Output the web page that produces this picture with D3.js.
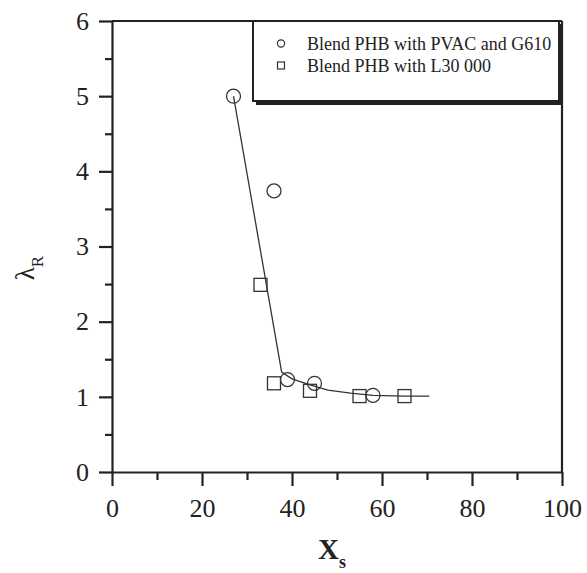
<!DOCTYPE html>
<html>
<head>
<meta charset="utf-8">
<script src="https://cdn.jsdelivr.net/npm/d3@7"></script>
<style>
  body { margin: 0; background: #fff; }
  svg { display: block; }
  text { font-family: "Liberation Serif", "Times New Roman", serif; fill: #222; }
</style>
</head>
<body>
<svg id="chart" width="587" height="573"></svg>
<script>
(function () {
    'use strict';

    const WIDTH = 587;
    const HEIGHT = 573;

    // blend PHB with PVAC and G610 (circles)
    const circleX = [27, 36, 39, 45, 58];
    const circleY = [5.0, 3.74, 1.23, 1.18, 1.02];

    // blend PHB with L30 000 (squares)
    const squareX = [33, 36, 44, 55, 65];
    const squareY = [2.49, 1.18, 1.08, 1.01, 1.01];

    // drawn trend line
    const fitX = [27, 37.7, 40, 44, 48, 53, 58, 65, 70.5];
    const fitY = [5.0, 1.33, 1.24, 1.16, 1.09, 1.05, 1.02, 1.01, 1.01];

    const xTicks = [0, 20, 40, 60, 80, 100];
    const yTicks = [0, 1, 2, 3, 4, 5, 6];
    const legendLabels = ["Blend PHB with PVAC and G610", "Blend PHB with L30 000"];

    const left = 112, right = 562, top = 21, bottom = 472;
    const ink = "#222";

    let svg = d3.select("#chart");

    let x = d3.scaleLinear().domain([0, 100]).range([left, right]);
    let y = d3.scaleLinear().domain([0, 6]).range([bottom, top]);

    // frame top / right
    svg.append("line")
        .attr("x1", left).attr("x2", right).attr("y1", top).attr("y2", top)
        .attr("stroke", ink).attr("stroke-width", 2.2);
    svg.append("line")
        .attr("x1", right).attr("x2", right).attr("y1", top).attr("y2", bottom)
        .attr("stroke", ink).attr("stroke-width", 2.2);

    // minor ticks
    svg.append("g")
        .attr("transform", `translate(${left},0)`)
        .call(d3.axisLeft(y).tickValues(d3.range(0.5, 6, 1)).tickSize(7).tickFormat(""))
        .call(g => g.select(".domain").remove());
    svg.append("g")
        .attr("transform", `translate(0,${bottom})`)
        .call(d3.axisBottom(x).tickValues(d3.range(10, 100, 20)).tickSize(8).tickFormat(""))
        .call(g => g.select(".domain").remove());

    // major axes
    let yAxis = svg.append("g")
        .attr("transform", `translate(${left},0)`)
        .call(d3.axisLeft(y).tickValues(yTicks).tickFormat(d3.format("d"))
            .tickSize(13).tickSizeOuter(0).tickPadding(10));
    let xAxis = svg.append("g")
        .attr("transform", `translate(0,${bottom})`)
        .call(d3.axisBottom(x).tickValues(xTicks).tickFormat(d3.format("d"))
            .tickSize(14).tickSizeOuter(0).tickPadding(13));

    svg.selectAll(".tick line").attr("stroke", ink).attr("stroke-width", 2.2);
    svg.selectAll(".domain").attr("stroke", ink).attr("stroke-width", 2.2);
    [xAxis, yAxis].forEach(a => a.selectAll("text")
        .attr("font-family", "Liberation Serif, serif")
        .attr("font-size", 26)
        .attr("fill", "#333"));

    // trend line
    let line = d3.line().x(d => x(d[0])).y(d => y(d[1]));
    svg.append("path")
        .datum(d3.zip(fitX, fitY))
        .attr("d", line)
        .attr("fill", "none")
        .attr("stroke", "#333")
        .attr("stroke-width", 1.3);

    // markers
    svg.append("g").selectAll("circle")
        .data(d3.zip(circleX, circleY))
        .join("circle")
        .attr("cx", d => x(d[0]))
        .attr("cy", d => y(d[1]))
        .attr("r", 7)
        .attr("fill", "none")
        .attr("stroke", "#333")
        .attr("stroke-width", 1.3);

    svg.append("g").selectAll("rect")
        .data(d3.zip(squareX, squareY))
        .join("rect")
        .attr("x", d => x(d[0]) - 6.5)
        .attr("y", d => y(d[1]) - 6.5)
        .attr("width", 13)
        .attr("height", 13)
        .attr("fill", "none")
        .attr("stroke", "#333")
        .attr("stroke-width", 1.3);

    // legend box with shadow
    let lg = svg.append("g");
    lg.append("rect")
        .attr("x", 256).attr("y", 24).attr("width", 307).attr("height", 81)
        .attr("fill", ink);
    lg.append("rect")
        .attr("x", 253).attr("y", 21).attr("width", 306).attr("height", 80)
        .attr("fill", "#fff").attr("stroke", ink).attr("stroke-width", 2);

    lg.append("circle")
        .attr("cx", 281).attr("cy", 43.5).attr("r", 3.6)
        .attr("fill", "none").attr("stroke", "#333").attr("stroke-width", 1.2);
    lg.append("rect")
        .attr("x", 277.5).attr("y", 62).attr("width", 7).attr("height", 7)
        .attr("fill", "none").attr("stroke", "#333").attr("stroke-width", 1.2);
    lg.selectAll("text.lbl")
        .data(legendLabels)
        .join("text")
        .attr("class", "lbl")
        .attr("x", 307)
        .attr("y", (d, i) => 49.5 + i * 22.5)
        .attr("font-size", 18)
        .attr("fill", "#333")
        .text(d => d);

    // axis titles
    let yt = svg.append("text")
        .attr("transform", "translate(34,268) rotate(-90)")
        .attr("text-anchor", "middle")
        .attr("font-size", 27);
    yt.append("tspan").text("λ");
    yt.append("tspan").attr("font-size", 17).attr("dy", 9).text("R");

    let xt = svg.append("text")
        .attr("x", 318).attr("y", 559)
        .attr("font-size", 29)
        .attr("font-weight", "bold");
    xt.append("tspan").text("X");
    xt.append("tspan").attr("font-size", 18).attr("dy", 9).text("s");
})();
</script>
</body>
</html>
